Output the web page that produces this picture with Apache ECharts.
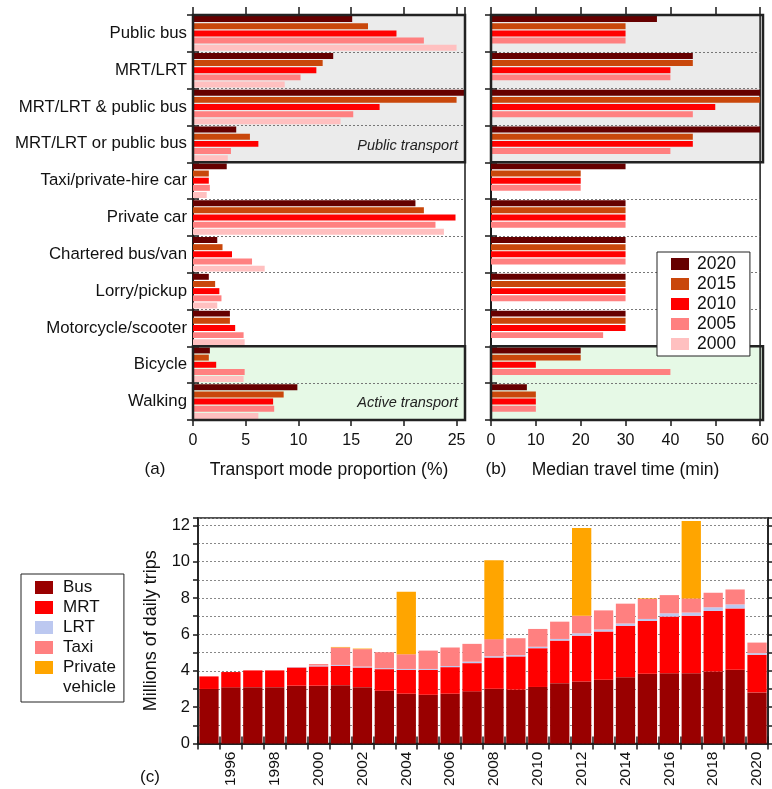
<!DOCTYPE html>
<html><head><meta charset="utf-8">
<script src="https://cdn.jsdelivr.net/npm/echarts@6/dist/echarts.min.js"></script>
<style>html,body{margin:0;padding:0;background:#fff}#c{width:772px;height:789px}</style>
</head><body><div id="c"></div>
<script>
// ---------- data: panels (a) and (b) ----------
const modes = ['Public bus','MRT/LRT','MRT/LRT & public bus','MRT/LRT or public bus','Taxi/private-hire car','Private car','Chartered bus/van','Lorry/pickup','Motorcycle/scooter','Bicycle','Walking'];
const surveyYears = ['2020','2015','2010','2005','2000'];
const share2020 = [15.1,13.3,25.8,4.1,3.2,21.1,2.3,1.5,3.5,1.6,9.9];
const share2015 = [16.6,12.3,25.0,5.4,1.5,21.9,2.8,2.1,3.5,1.5,8.6];
const share2010 = [19.3,11.7,17.7,6.2,1.5,24.9,3.7,2.5,4.0,2.2,7.6];
const share2005 = [21.9,10.2,15.2,3.6,1.6,23.0,5.6,2.7,4.8,4.9,7.7];
const share2000 = [25.0,8.7,14.0,3.3,1.3,23.8,6.8,2.3,4.9,4.8,6.2];
const time2020 = [37,45,60,60,30,30,30,30,30,20,8];
const time2015 = [30,45,60,45,20,30,30,30,30,20,10];
const time2010 = [30,40,50,45,20,30,30,30,30,10,10];
const time2005 = [30,40,45,40,20,30,30,30,25,40,10];
const time2000 = [null,null,null,null,null,null,null,null,null,null,null];

// ---------- data: panel (c) ----------
const tripYears = ['1995','1996','1997','1998','1999','2000','2001','2002','2003','2004','2005','2006','2007','2008','2009','2010','2011','2012','2013','2014','2015','2016','2017','2018','2019','2020'];
const busTrips  = [3.0,3.09,3.1,3.1,3.18,3.18,3.21,3.1,2.9,2.74,2.68,2.74,2.87,3.01,2.96,3.11,3.32,3.41,3.51,3.65,3.84,3.87,3.87,3.96,4.05,2.81];
const mrtTrips  = [0.69,0.84,0.92,0.92,1.0,1.06,1.06,1.08,1.19,1.31,1.37,1.46,1.55,1.72,1.83,2.13,2.34,2.52,2.65,2.82,2.9,3.11,3.16,3.33,3.38,2.07];
const lrtTrips  = [null,null,null,null,0.02,0.05,0.05,0.05,0.05,0.05,0.05,0.06,0.08,0.07,0.07,0.08,0.09,0.13,0.11,0.13,0.11,0.18,0.17,0.2,0.22,0.09];
const taxiTrips = [null,null,null,null,null,0.08,0.96,0.96,0.88,0.81,1.01,1.02,0.98,0.94,0.93,0.98,0.95,0.97,1.05,1.09,1.1,1.0,0.78,0.8,0.82,0.58];
const privTrips = [null,null,null,null,null,null,0.03,0.03,null,3.44,null,null,null,4.34,null,null,null,4.82,null,null,0.03,null,4.26,null,null,null];

// ---------- styles ----------
const FONT = '"Liberation Sans", Arial, sans-serif';
const yearColors = ['#660000','#c9470b','#ff0000','#ff8080','#ffc0c0'];
const modeColors = {Bus:'#990000', MRT:'#ff0000', LRT:'#bcc8f0', Taxi:'#ff8080', 'Private vehicle':'#ffa500'};
const INK = '#1a1a1a';

const GA = {left:193, top:15, width:272, height:405};
const GB = {left:491, top:15, width:272, height:405};
const GC = {left:198, top:518, width:570, height:226};

const chart = echarts.init(document.getElementById('c'), null, {renderer:'canvas'});

function gridOf(g){ return {left:g.left, top:g.top, width:g.width, height:g.height, show:true, borderColor:INK, borderWidth:1.5, backgroundColor:'transparent', containLabel:false}; }
const axLine = {show:true, lineStyle:{color:INK, width:1.5}};

function valueAxis(grid, max, interval, pos, name, showLabel){
  return {
    gridIndex:grid, type:'value', min:0, max:max, interval:interval, position:pos,
    axisLine:axLine,
    axisTick:{show:true, inside:false, length: pos==='top'?8:6, lineStyle:{color:INK, width:1.5}},
    axisLabel:{show:showLabel, fontSize:16, color:'#111', fontFamily:FONT, margin:13, showMaxLabel: max % interval === 0},
    splitLine:{show:false},
    name: name || '', nameLocation:'middle', nameGap:41,
    nameTextStyle:{fontSize:17.5, color:'#111', fontFamily:FONT}
  };
}
function catAxisY(grid, pos, showLabel){
  return {
    gridIndex:grid, type:'category', data:modes, inverse:true, position:pos,
    axisLine:axLine,
    axisTick:{show:true, inside:true, length:6, lineStyle:{color:INK, width:1.5}},
    axisLabel:{show:showLabel, fontSize:16.8, color:'#111', fontFamily:FONT, margin:6},
    splitLine:{show:pos==='left', lineStyle:{color:'#777', type:[2,2], width:1}}
  };
}

const series = [];
const shares = [share2020,share2015,share2010,share2005,share2000];
const times = [time2020,time2015,time2010,time2005,time2000];
surveyYears.forEach((y,i)=>{
  series.push({type:'bar', name:y, xAxisIndex:0, yAxisIndex:0, data:shares[i], itemStyle:{color:yearColors[i]}, barGap:'20%', barCategoryGap:'6%', z:3});
});
surveyYears.forEach((y,i)=>{
  series.push({type:'bar', name:y, xAxisIndex:2, yAxisIndex:2, data:times[i], itemStyle:{color:yearColors[i]}, barGap:'20%', barCategoryGap:'6%', z:3});
});
const tripSeries = [['Bus',busTrips],['MRT',mrtTrips],['LRT',lrtTrips],['Taxi',taxiTrips],['Private vehicle',privTrips]];
tripSeries.forEach(([n,d])=>{
  series.push({type:'bar', name:n, stack:'trips', xAxisIndex:4, yAxisIndex:4, data:d, itemStyle:{color:modeColors[n]}, barCategoryGap:'12%', z:3});
});
// empty helper series for the second legend line
series.push({type:'line', name:'vehicle', xAxisIndex:4, yAxisIndex:4, data:[], silent:true});

function rowRects(g){
  const rh = g.height/11;
  return [
    {type:'rect', silent:true, z:-1, shape:{x:g.left, y:g.top, width:g.width, height:4*rh}, style:{fill:'#ebebeb'}},
    {type:'rect', silent:true, z:-1, shape:{x:g.left, y:g.top+9*rh, width:g.width, height:2*rh}, style:{fill:'#e6f9e6'}},
    {type:'rect', silent:true, z:20, shape:{x:g.left, y:g.top, width:g.width, height:4*rh}, style:{fill:null, stroke:'#222', lineWidth:2.5}},
    {type:'rect', silent:true, z:20, shape:{x:g.left, y:g.top+9*rh, width:g.width, height:2*rh}, style:{fill:null, stroke:'#222', lineWidth:2.5}}
  ];
}
const rhA = GA.height/11;
const graphics = [].concat(rowRects(GA), rowRects(GB), [
  {type:'text', silent:true, z:21, x:GA.left+GA.width-7, y:GA.top+3.5*rhA+2, style:{text:'Public transport', font:'italic 14.5px '+FONT, fill:'#222', align:'right', verticalAlign:'middle'}},
  {type:'text', silent:true, z:21, x:GA.left+GA.width-7, y:GA.top+10.5*rhA+1, style:{text:'Active transport', font:'italic 14.5px '+FONT, fill:'#222', align:'right', verticalAlign:'middle'}},
  {type:'text', silent:true, z:21, x:155, y:469, style:{text:'(a)', font:'17px '+FONT, fill:'#111', align:'center', verticalAlign:'middle'}},
  {type:'text', silent:true, z:21, x:496, y:469, style:{text:'(b)', font:'17px '+FONT, fill:'#111', align:'center', verticalAlign:'middle'}},
  {type:'text', silent:true, z:21, x:150, y:777, style:{text:'(c)', font:'17px '+FONT, fill:'#111', align:'center', verticalAlign:'middle'}}
]);

const option = {
  animation:false,
  backgroundColor:'#fff',
  textStyle:{fontFamily:FONT},
  grid:[gridOf(GA), gridOf(GB), gridOf(GC)],
  xAxis:[
    valueAxis(0, 25.8, 5, 'bottom', 'Transport mode proportion (%)', true),
    valueAxis(0, 25.8, 5, 'top', '', false),
    valueAxis(1, 60, 10, 'bottom', 'Median travel time (min)', true),
    valueAxis(1, 60, 10, 'top', '', false),
    {gridIndex:2, type:'category', data:tripYears, position:'bottom', axisLine:axLine,
     axisTick:{show:true, interval:0, length:6, lineStyle:{color:INK, width:1.5}},
     axisLabel:{interval:(i)=>i%2===1, rotate:90, fontSize:15.5, color:'#111', fontFamily:FONT, margin:8}},
    {gridIndex:2, type:'category', data:tripYears, position:'top', axisLine:axLine,
     axisTick:{show:true, interval:0, length:7, lineStyle:{color:INK, width:1.5}}, axisLabel:{show:false}}
  ],
  yAxis:[
    catAxisY(0,'left',true), catAxisY(0,'right',false),
    catAxisY(1,'left',false), catAxisY(1,'right',false),
    {gridIndex:2, type:'value', min:0, max:12.4, interval:1, position:'left', axisLine:axLine,
     axisTick:{show:true, length:5, lineStyle:{color:INK, width:1.5}},
     axisLabel:{fontSize:16.5, color:'#111', fontFamily:FONT, margin:8, formatter:(v)=> (v%2===0 ? String(v) : '')},
     splitLine:{show:true, lineStyle:{color:'#888', type:[2,2], width:1}},
     name:'Millions of daily trips', nameLocation:'middle', nameGap:38, nameRotate:90,
     nameTextStyle:{fontSize:18, color:'#111', fontFamily:FONT}},
    {gridIndex:2, type:'value', min:0, max:12.4, interval:1, position:'right', axisLine:axLine,
     axisTick:{show:true, length:4, lineStyle:{color:INK, width:1.5}}, axisLabel:{show:false}, splitLine:{show:false}}
  ],
  legend:[
    {data:surveyYears, orient:'vertical', left:657, top:252, itemWidth:18, itemHeight:12, itemGap:2, icon:'rect',
     backgroundColor:'#fff', borderColor:'#222', borderWidth:1, padding:[3,14,3,14], selectedMode:false,
     textStyle:{fontSize:17.5, color:'#111', fontFamily:FONT, padding:[0,0,0,3]}, z:30},
    {data:[{name:'Bus',icon:'rect'},{name:'MRT',icon:'rect'},{name:'LRT',icon:'rect'},{name:'Taxi',icon:'rect'},{name:'Private vehicle',icon:'rect'},{name:'vehicle',icon:'none'}],
     orient:'vertical', left:21, top:574, itemWidth:18, itemHeight:13, itemGap:3,
     backgroundColor:'#fff', borderColor:'#222', borderWidth:1, padding:[5,8,6,14], selectedMode:false,
     formatter:(n)=> n==='Private vehicle' ? 'Private' : n,
     textStyle:{fontSize:17, color:'#111', fontFamily:FONT, padding:[0,0,0,5]}, z:30}
  ],
  graphic:graphics,
  series:series
};
chart.setOption(option);
</script>
</body></html>
